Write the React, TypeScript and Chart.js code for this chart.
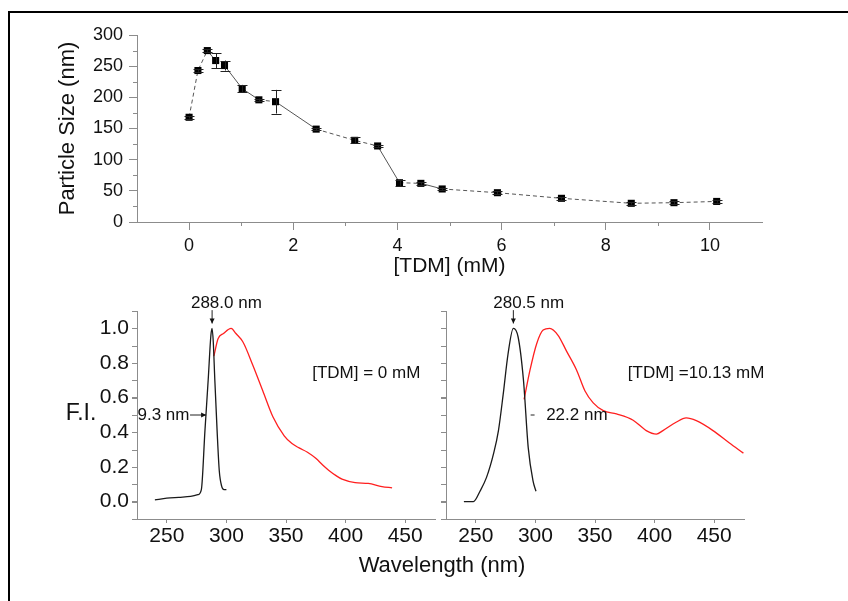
import React, { useEffect, useRef } from 'react';
import { Chart, registerables } from 'chart.js';

Chart.register(...registerables);

// ---------- Data: particle size vs [TDM] ----------
const tdmConc = [0, 0.17, 0.35, 0.51, 0.68, 1.02, 1.34, 1.66, 2.44, 3.18, 3.62, 4.04, 4.45, 4.86, 5.92, 7.15, 8.49, 9.31, 10.13];
const particleSize = [168, 243, 275, 259, 251, 214, 196, 193, 149, 131, 122, 63, 62, 53, 47, 38, 30, 31, 33];
const sizeError = [2, 2, 2, 12, 8, 6, 2, 19, 2, 5, 2, 5, 2, 2, 2, 2, 2, 2, 2];
const sizeTicks = [0, 50, 100, 150, 200, 250, 300];
const concTicks = [0, 2, 4, 6, 8, 10];

// ---------- Data: fluorescence spectra ----------
// [TDM] = 0 mM
const exWl0 = [240, 250, 260, 270, 276, 279, 282, 284.7, 287, 288, 289, 290.3, 292.2, 294, 296, 298, 300];
const exFI0 = [0.01, 0.02, 0.025, 0.03, 0.04, 0.07, 0.41, 0.7, 0.96, 1.0, 0.92, 0.7, 0.41, 0.18, 0.09, 0.07, 0.07];
const emWl0 = [289.5, 293, 297.5, 304, 308, 314, 322, 330.5, 339, 348.5, 355, 361, 368, 375, 381, 386, 392, 397, 408, 419, 430.5, 439];
const emFI0 = [0.84, 0.94, 0.97, 1.0, 0.97, 0.92, 0.79, 0.64, 0.49, 0.38, 0.335, 0.31, 0.285, 0.25, 0.21, 0.18, 0.15, 0.13, 0.11, 0.105, 0.087, 0.08];
// [TDM] = 10.13 mM
const exWl1 = [240, 248, 253.5, 259, 265, 269, 273, 277, 281.5, 285.5, 290, 294, 298, 300.5];
const exFI1 = [0.0, 0.0, 0.06, 0.14, 0.28, 0.41, 0.62, 0.85, 1.0, 0.95, 0.7, 0.31, 0.12, 0.06];
const emWl1 = [290.5, 295.5, 301, 306.5, 312, 319, 326, 334.5, 341.5, 348.5, 357, 368, 382, 393, 401.5, 407, 418, 426.5, 435, 449, 462.5, 474.5];
const emFI1 = [0.59, 0.76, 0.91, 0.99, 1.0, 0.96, 0.87, 0.76, 0.64, 0.57, 0.525, 0.506, 0.47, 0.41, 0.39, 0.41, 0.458, 0.483, 0.467, 0.41, 0.34, 0.28];
const fiTicks = [0, 0.2, 0.4, 0.6, 0.8, 1.0];
const wlTicks = [250, 300, 350, 400, 450];

// line style of each connecting segment in the top panel ('d' dashed, 's' solid)
const segmentStyle = ['d', 'd', 's', 'd', 's', 's', 'd', 's', 'd', 'd', 's', 'd', 's', 'd', 'd', 'd', 'd', 'd'];

const FONT = "'Liberation Sans', Arial, sans-serif";
const AXIS = '#8c8c8c';
const TEXT = '#111';

const minorTicksPlugin = {
  id: 'minorTicks',
  afterDraw(chart: any, _a: any, opts: any) {
    const items = (opts && opts.items) || [];
    const ctx = chart.ctx;
    ctx.save();
    ctx.strokeStyle = AXIS;
    ctx.lineWidth = 1;
    for (const it of items) {
      const s = chart.scales[it.axis];
      if (!s) continue;
      const n = Math.round((it.to - it.from) / it.step);
      for (let i = 0; i <= n; i++) {
        const v = it.from + i * it.step;
        const p = Math.round(s.getPixelForValue(v)) + 0.5;
        ctx.beginPath();
        if (it.axis === 'x') {
          const y0 = chart.chartArea.bottom;
          ctx.moveTo(p, y0);
          ctx.lineTo(p, y0 + it.length);
        } else {
          const x0 = chart.chartArea.left;
          ctx.moveTo(x0, p);
          ctx.lineTo(x0 - it.length, p);
        }
        ctx.stroke();
      }
    }
    ctx.restore();
  },
};

const errorBarPlugin = {
  id: 'errorBars',
  afterDatasetsDraw(chart: any) {
    const meta = chart.getDatasetMeta(0);
    const ys = chart.scales.y;
    const ctx = chart.ctx;
    ctx.save();
    ctx.strokeStyle = '#222';
    ctx.lineWidth = 1;
    meta.data.forEach((pt: any, i: number) => {
      const v = particleSize[i];
      const e = sizeError[i];
      const x = Math.round(pt.x) + 0.5;
      const yt = ys.getPixelForValue(v + e);
      const yb = ys.getPixelForValue(v - e);
      ctx.beginPath();
      ctx.moveTo(x, yt);
      ctx.lineTo(x, yb);
      ctx.moveTo(x - 5, Math.round(yt) + 0.5);
      ctx.lineTo(x + 5, Math.round(yt) + 0.5);
      ctx.moveTo(x - 5, Math.round(yb) + 0.5);
      ctx.lineTo(x + 5, Math.round(yb) + 0.5);
      ctx.stroke();
    });
    ctx.restore();
  },
};

const annotationPlugin = {
  id: 'specNotes',
  afterDraw(chart: any, _a: any, opts: any) {
    const items = (opts && opts.items) || [];
    const xs = chart.scales.x;
    const ys = chart.scales.y;
    const ctx = chart.ctx;
    ctx.save();
    ctx.fillStyle = TEXT;
    ctx.strokeStyle = '#222';
    ctx.lineWidth = 1;
    ctx.font = `17px ${FONT}`;
    ctx.textBaseline = 'middle';
    for (const it of items) {
      if (it.type === 'text') {
        ctx.textAlign = it.align || 'left';
        ctx.fillText(it.text, xs.getPixelForValue(it.x), ys.getPixelForValue(it.y));
      } else {
        const x1 = xs.getPixelForValue(it.x1), y1 = ys.getPixelForValue(it.y1);
        const x2 = xs.getPixelForValue(it.x2), y2 = ys.getPixelForValue(it.y2);
        ctx.beginPath();
        ctx.moveTo(x1, y1);
        ctx.lineTo(x2, y2);
        ctx.stroke();
        if (it.head) {
          const ang = Math.atan2(y2 - y1, x2 - x1);
          const L = 5, W = 2.5;
          ctx.beginPath();
          ctx.moveTo(x2, y2);
          ctx.lineTo(x2 - L * Math.cos(ang) + W * Math.sin(ang), y2 - L * Math.sin(ang) - W * Math.cos(ang));
          ctx.lineTo(x2 - L * Math.cos(ang) - W * Math.sin(ang), y2 - L * Math.sin(ang) + W * Math.cos(ang));
          ctx.closePath();
          ctx.fill();
        }
      }
    }
    ctx.restore();
  },
};

function setTicks(values: number[]) {
  return (scale: any) => {
    scale.ticks = values.map((v) => ({ value: v }));
  };
}

function topConfig(): any {
  return {
    type: 'line',
    data: {
      datasets: [
        {
          data: tdmConc.map((x, i) => ({ x, y: particleSize[i] })),
          borderColor: '#555',
          borderWidth: 1,
          pointStyle: 'rect',
          pointRadius: 5,
          pointBackgroundColor: '#000',
          pointBorderColor: '#000',
          pointBorderWidth: 0,
          tension: 0,
          segment: {
            borderDash: (c: any) => (segmentStyle[c.p0DataIndex] === 's' ? [] : [4, 3]),
          },
        },
      ],
    },
    options: {
      responsive: false,
      animation: false,
      layout: { padding: { left: 55, right: 86, top: 35, bottom: 321 } },
      plugins: {
        legend: { display: false },
        tooltip: { enabled: false },
        minorTicks: {
          items: [
            { axis: 'y', from: 25, to: 275, step: 50, length: 4 },
            { axis: 'x', from: 1, to: 9, step: 2, length: 4 },
          ],
        },
      },
      scales: {
        x: {
          type: 'linear',
          min: -1,
          max: 11,
          afterBuildTicks: setTicks(concTicks),
          afterFit: (s: any) => { s.height = 58; },
          border: { color: AXIS, width: 1 },
          grid: { display: true, drawOnChartArea: false, color: AXIS, tickLength: 8 },
          ticks: { color: TEXT, font: { family: FONT, size: 18 }, padding: 5, maxRotation: 0 },
          title: { display: true, text: '[TDM] (mM)', color: TEXT, font: { family: FONT, size: 21 }, padding: { top: 0, bottom: 1 } },
        },
        y: {
          type: 'linear',
          min: 0,
          max: 300,
          afterBuildTicks: setTicks(sizeTicks),
          afterFit: (s: any) => { s.width = 82; },
          border: { color: AXIS, width: 1 },
          grid: { display: true, drawOnChartArea: false, color: AXIS, tickLength: 8 },
          ticks: { color: TEXT, font: { family: FONT, size: 18 }, padding: 6 },
          title: { display: true, text: 'Particle Size (nm)', color: TEXT, font: { family: FONT, size: 22 }, padding: 0 },
        },
      },
    },
    plugins: [errorBarPlugin, minorTicksPlugin],
  };
}

function spectrumConfig(
  exWl: number[], exFI: number[], emWl: number[], emFI: number[],
  notes: any[], showYLabels: boolean, padLeft: number, yWidth: number, padRight: number,
): any {
  return {
    type: 'line',
    data: {
      datasets: [
        {
          data: exWl.map((x, i) => ({ x, y: exFI[i] })),
          borderColor: '#1a1a1a',
          borderWidth: 1.3,
          pointRadius: 0,
          cubicInterpolationMode: 'monotone',
        },
        {
          data: emWl.map((x, i) => ({ x, y: emFI[i] })),
          borderColor: '#ff1f1f',
          borderWidth: 1.3,
          pointRadius: 0,
          cubicInterpolationMode: 'monotone',
        },
      ],
    },
    options: {
      responsive: false,
      animation: false,
      layout: { padding: { left: padLeft, right: padRight, top: 311, bottom: 42 } },
      plugins: {
        legend: { display: false },
        tooltip: { enabled: false },
        minorTicks: { items: [{ axis: 'y', from: -0.1, to: 1.1, step: 0.1, length: 5 }] },
        specNotes: { items: notes },
      },
      scales: {
        x: {
          type: 'linear',
          min: 225,
          max: 475,
          afterBuildTicks: setTicks(wlTicks),
          afterFit: (s: any) => { s.height = 40; },
          border: { color: AXIS, width: 1 },
          grid: { display: true, drawOnChartArea: false, color: AXIS, tickLength: 4 },
          ticks: { color: TEXT, font: { family: FONT, size: 21 }, padding: 1, maxRotation: 0 },
        },
        y: {
          type: 'linear',
          min: -0.1,
          max: 1.1,
          afterBuildTicks: setTicks(fiTicks),
          afterFit: (s: any) => { s.width = yWidth; },
          border: { color: AXIS, width: 1 },
          grid: { display: true, drawOnChartArea: false, color: AXIS, tickLength: 5 },
          ticks: {
            display: showYLabels,
            color: TEXT,
            font: { family: FONT, size: 21 },
            padding: 3,
            callback: (v: any) => Number(v).toFixed(1),
          },
        },
      },
    },
    plugins: [minorTicksPlugin, annotationPlugin],
  };
}

const notesLeft = [
  { type: 'text', text: '288.0 nm', x: 300, y: 1.145, align: 'center' },
  { type: 'arrow', x1: 288, y1: 1.105, x2: 288, y2: 1.028, head: true },
  { type: 'text', text: '9.3 nm', x: 269, y: 0.5, align: 'right' },
  { type: 'arrow', x1: 269.5, y1: 0.5, x2: 283, y2: 0.5, head: true },
  { type: 'text', text: '[TDM] = 0 mM', x: 372, y: 0.74, align: 'left' },
];
const notesRight = [
  { type: 'text', text: '280.5 nm', x: 294.4, y: 1.145, align: 'center' },
  { type: 'arrow', x1: 281.5, y1: 1.105, x2: 281.5, y2: 1.028, head: true },
  { type: 'arrow', x1: 296, y1: 0.5, x2: 299.3, y2: 0.5, head: false },
  { type: 'text', text: '22.2 nm', x: 309, y: 0.5, align: 'left' },
  { type: 'text', text: '[TDM] =10.13 mM', x: 377.5, y: 0.74, align: 'left' },
];

export default function App() {
  const topRef = useRef<HTMLCanvasElement>(null);
  const leftRef = useRef<HTMLCanvasElement>(null);
  const rightRef = useRef<HTMLCanvasElement>(null);

  useEffect(() => {
    const charts: Chart[] = [];
    if (topRef.current) charts.push(new Chart(topRef.current, topConfig()));
    if (leftRef.current)
      charts.push(new Chart(leftRef.current, spectrumConfig(exWl0, exFI0, emWl0, emFI0, notesLeft, true, 60, 77, 413)));
    if (rightRef.current)
      charts.push(new Chart(rightRef.current, spectrumConfig(exWl1, exFI1, emWl1, emFI1, notesRight, false, 436, 10, 104)));
    return () => charts.forEach((c) => c.destroy());
  }, []);

  const canvasStyle: React.CSSProperties = { position: 'absolute', left: 0, top: 0, width: 848, height: 601 };
  const label: React.CSSProperties = {
    position: 'absolute',
    fontFamily: FONT,
    color: TEXT,
    whiteSpace: 'nowrap',
    transform: 'translate(-50%, -50%)',
    lineHeight: 1,
  };

  return (
    <div style={{ position: 'absolute', left: 0, top: 0, width: 848, height: 601, background: '#fff', overflow: 'hidden' }}>
      <div style={{ position: 'absolute', left: 8, top: 11, right: 0, bottom: 0, borderTop: '2px solid #000', borderLeft: '2px solid #000' }} />
      <canvas ref={topRef} width={848} height={601} style={canvasStyle} />
      <canvas ref={leftRef} width={848} height={601} style={canvasStyle} />
      <canvas ref={rightRef} width={848} height={601} style={canvasStyle} />
      <div style={{ ...label, left: 81, top: 412, fontSize: 23 }}>F.I.</div>
      <div style={{ ...label, left: 442, top: 565, fontSize: 22 }}>Wavelength (nm)</div>
    </div>
  );
}
